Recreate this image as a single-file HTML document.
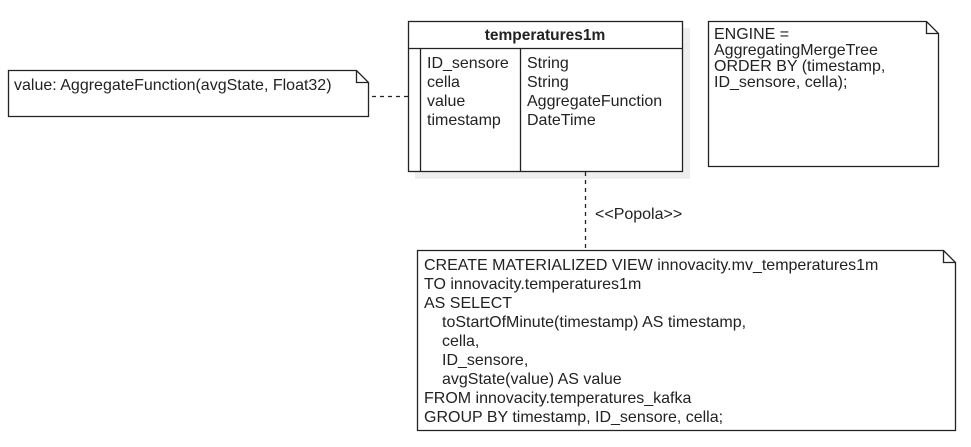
<!DOCTYPE html>
<html><head><meta charset="utf-8"><style>
html,body{margin:0;padding:0;background:#fff;}
svg text{font-family:"Liberation Sans",sans-serif;font-size:16px;fill:#222;}
</style></head><body>
<svg width="971" height="442" viewBox="0 0 971 442" xmlns="http://www.w3.org/2000/svg">
<rect x="415" y="28" width="275" height="151" fill="#eeeeee"/>
<rect x="408.5" y="21.5" width="274" height="150" fill="#fff" stroke="#222" stroke-width="1.3"/>
<line x1="408" y1="48.5" x2="683" y2="48.5" stroke="#222" stroke-width="1.3"/>
<line x1="420.5" y1="48" x2="420.5" y2="172" stroke="#222" stroke-width="1.3"/>
<line x1="520.5" y1="48" x2="520.5" y2="172" stroke="#222" stroke-width="1.3"/>
<text x="545" y="40" text-anchor="middle" style="font-weight:bold;font-size:15.5px">temperatures1m</text>
<text x="427" y="68">ID_sensore</text>
<text x="427" y="87">cella</text>
<text x="427" y="106">value</text>
<text x="427" y="125">timestamp</text>
<text x="527" y="68">String</text>
<text x="527" y="87">String</text>
<text x="527" y="106">AggregateFunction</text>
<text x="527" y="125">DateTime</text>
<path d="M8.5 70.5 H356.5 L368.5 82.5 V116.5 H8.5 Z M356.5 70.5 V82.5 H368.5" fill="#fff" stroke="#222" stroke-width="1.3"/>
<text x="14" y="90">value: AggregateFunction(avgState, Float32)</text>
<line x1="372" y1="96.5" x2="408" y2="96.5" stroke="#222" stroke-width="1.3" stroke-dasharray="4,4"/>
<path d="M708.5 21.5 H926.5 L938.5 33.5 V166.5 H708.5 Z M926.5 21.5 V33.5 H938.5" fill="#fff" stroke="#222" stroke-width="1.3"/>
<text x="714" y="39">ENGINE =</text>
<text x="714" y="55">AggregatingMergeTree</text>
<text x="714" y="71">ORDER BY (timestamp,</text>
<text x="714" y="87">ID_sensore, cella);</text>
<line x1="585.5" y1="172" x2="585.5" y2="250" stroke="#222" stroke-width="1.3" stroke-dasharray="4,4"/>
<text x="595" y="219">&lt;&lt;Popola&gt;&gt;</text>
<path d="M417.5 250.5 H943.5 L955.5 262.5 V430.5 H417.5 Z M943.5 250.5 V262.5 H955.5" fill="#fff" stroke="#222" stroke-width="1.3"/>
<text x="424" y="270">CREATE MATERIALIZED VIEW innovacity.mv_temperatures1m</text>
<text x="424" y="289">TO innovacity.temperatures1m</text>
<text x="424" y="308">AS SELECT</text>
<text x="442" y="327">toStartOfMinute(timestamp) AS timestamp,</text>
<text x="442" y="346">cella,</text>
<text x="442" y="365">ID_sensore,</text>
<text x="442" y="384">avgState(value) AS value</text>
<text x="424" y="403">FROM innovacity.temperatures_kafka</text>
<text x="424" y="422">GROUP BY timestamp, ID_sensore, cella;</text>
</svg>
</body></html>
